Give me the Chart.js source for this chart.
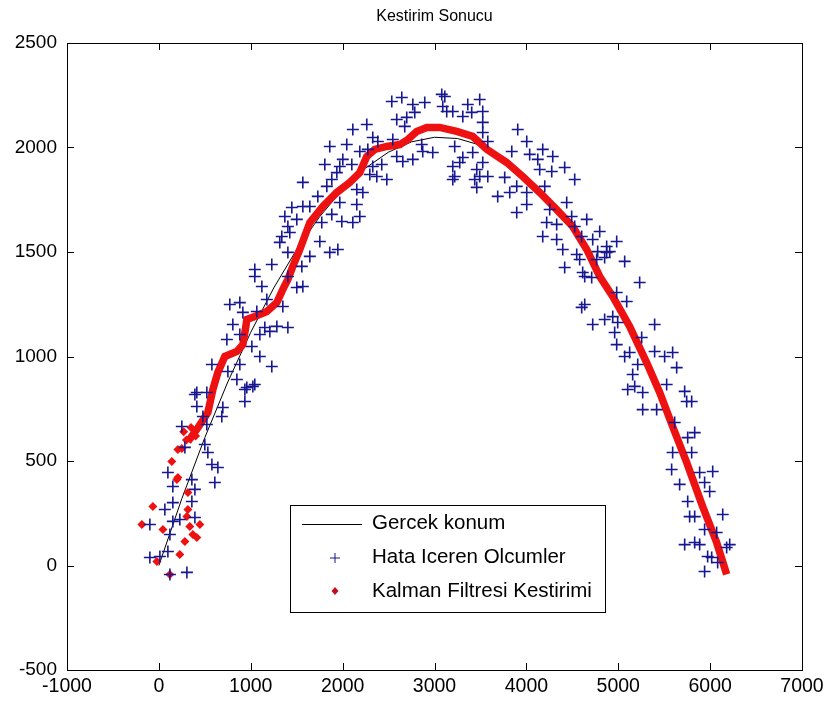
<!DOCTYPE html>
<html>
<head>
<meta charset="utf-8">
<script src="https://cdn.jsdelivr.net/npm/chart.js@4.4.1/dist/chart.umd.min.js"></script>
<style>
  html, body { margin: 0; padding: 0; background: #fff; }
  #wrap { width: 836px; height: 708px; }
</style>
</head>
<body>
<div id="wrap"><canvas id="kalmanChart" width="836" height="708"></canvas></div>
<script>
const chartTitle = 'Kestirim Sonucu';
const seriesNames = ['Gercek konum', 'Hata Iceren Olcumler', 'Kalman Filtresi Kestirimi'];
const xTicks = [-1000, 0, 1000, 2000, 3000, 4000, 5000, 6000, 7000];
const yTicks = [-500, 0, 500, 1000, 1500, 2000, 2500];

// true path
const trueX = [0, 250, 500, 750, 1000, 1250, 1500, 1750, 2000, 2250, 2500, 2750, 3000,
  3250, 3500, 3750, 4000, 4250, 4500, 4750, 5000, 5250, 5500, 5750, 6000, 6150];
const trueY = [0, 320, 612, 878, 1116, 1328, 1512, 1669, 1799, 1902, 1978, 2027, 2049,
  2043, 2011, 1951, 1864, 1751, 1610, 1442, 1247, 1024, 775, 499, 195, 0];

// noisy measurements
const measured = [
  [283,565],[500,579],[533,541],[577,483],[642,469],[609,397],[98,445],[152,378],[359,411],[392,364],
  [359,306],[152,301],[65,268],[-98,196],[152,211],[228,220],[392,230],[120,148],[98,67],[-98,38],
  [11,43],[305,-33],[120,-43],[250,665],[413,828],[522,828],[413,761],[696,756],[685,713],[936,785],
  [936,842],[1023,857],[1404,1498],[1643,1479],[1044,1416],[1044,1383],[1229,1440],[1556,1431],[1121,1335],[1501,1330],
  [1567,1335],[1175,1273],[772,1249],[881,1258],[1349,1239],[914,1211],[1066,1215],[805,1153],[881,1105],[740,1081],
  [1153,1139],[1284,1144],[1404,1139],[1208,1120],[1099,1105],[1012,1048],[1099,1000],[1229,952],[577,962],[881,962],
  [751,928],[849,890],[957,852],[1044,866],[392,818],[479,713],[522,675],
  [2535,2220],[2644,2239],[2764,2206],[2894,2215],[3079,2254],[3090,2196],[3133,2172],[2589,2134],[2698,2144],[2676,2101],
  [2785,2168],[2263,2110],[2111,2086],[2328,2048],[2383,2029],[2546,2038],[2274,1991],[2187,1981],[2045,2014],[1860,2005],
  [2002,1943],[1969,1909],[1806,1919],[1937,1880],[1882,1847],[1828,1814],[1567,1833],[2100,1919],[2328,1909],[2426,1919],
  [2372,1861],[2481,1847],[2296,1871],[2589,1957],[2655,1933],[2764,1943],[2872,1981],[2861,2014],[2981,1976],[3220,2005],
  [3199,1909],[3199,1847],[2154,1799],[2220,1785],[1969,1737],[2154,1727],[1730,1766],[1643,1718],[1567,1718],[1447,1713],
  [1371,1670],[1501,1656],[1882,1680],[1991,1646],[2111,1641],[2187,1670],[1773,1641],[1752,1550],[1860,1498],[1948,1512],
  [1404,1622],[1338,1574],[1425,1593],[1316,1546],[1404,1383],
  [3112,2244],[3199,2172],[3362,2206],[3405,2168],[3492,2230],[3525,2172],[3308,2148],[3525,2120],[3525,2072],[3580,2029],
  [3308,1952],[3416,1976],[3275,1928],[3525,1928],[3460,1895],[3220,1861],[3438,1847],[3492,1861],[3580,1861],[3460,1809],
  [3906,2086],[4004,2029],[3841,1981],[4036,1967],[4178,1991],[4124,1943],[4287,1957],[4145,1895],[4276,1885],[4417,1904],
  [4526,1847],[3764,1857],[3895,1814],[3688,1766],[3819,1785],[4004,1785],[4200,1814],[4004,1727],[3895,1689],[4439,1737],
  [4254,1703],[4221,1641],[4330,1632],[4493,1670],[4526,1622],[4657,1656],[4178,1574],[4330,1560],[4602,1574],[4798,1598],
  [4722,1560],[4983,1550],[4874,1526],[4874,1498],[4396,1512],[4548,1488],[4580,1464],[4765,1464],[5070,1455],[4417,1426],
  [4613,1402],
  [4776,1502],[4907,1502],[4852,1474],[4635,1383],[4711,1378],[5233,1354],[4983,1306],[5092,1263],[4635,1249],[4602,1235],
  [4722,1153],[4852,1177],[4940,1191],[4994,1163],[5396,1153],[4961,1115],[5255,1091],[4983,1057],[5396,1024],[5505,1000],
  [5592,1019],[5070,1000],[5124,1019],[5636,947],[5212,962],[5157,914],[5527,866],[5103,842],[5179,857],[5266,828],
  [5723,833],[5745,785],[5799,785],[5266,746],[5418,746],[5614,684],
  [5832,636],[5756,612],[5799,541],[5592,541],[5581,459],[5886,445],[6028,450],[5668,388],[5940,397],[5995,354],
  [5756,306],[5777,234],[5832,234],[6137,244],[5940,172],[6071,158],[5723,100],[5832,110],[5886,100],[6213,100],
  [6180,86],[5973,43],[6017,38],[6082,14],[5940,-29]
];

// kalman estimate: scattered start, then converged track
const kalmanStart = [
  [207,555],[141,498],[207,421],[316,349],[-65,282],[316,268],[-185,196],[44,172],[305,234],[337,187],
  [370,148],[413,134],[283,115],[228,53],[-22,19],[120,-43],[446,196],[196,411],[270,640],[350,660],
  [400,620],[300,600],[250,560]
];
const kalmanPath = [
  [316,593],[413,651],[533,732],[588,842],[642,924],[718,1000],[849,1024],[914,1057],[947,1144],[957,1177],
  [1044,1191],[1175,1215],[1284,1258],[1349,1321],[1404,1369],[1458,1431],[1534,1512],[1643,1641],[1784,1718],[1937,1785],
  [2078,1833],[2187,1880],[2263,1957],[2350,1991],[2481,2005],[2622,2014],[2709,2038],[2807,2077],[2916,2096],[3057,2096],
  [3242,2077],[3416,2053],[3569,1991],[3786,1928],[3960,1861],[4145,1785],[4330,1703],[4504,1622],[4657,1512],[4798,1383],
  [4940,1287],[5124,1144],[5309,971],[5451,828],[5592,665],[5745,493],[5919,282],[6071,110],[6180,-43]
];

const toXY = arr => arr.map(p => ({ x: p[0], y: p[1] }));
const FONT = "'Liberation Sans', Arial, sans-serif";
const BLUE = '#17178f';
const RED = '#ee1111';

// matlab style box, inward ticks, title and legend
const matlabAxes = {
  id: 'matlabAxes',
  afterDraw(chart) {
    const ctx = chart.ctx;
    const a = chart.chartArea;
    const sx = chart.scales.x, sy = chart.scales.y;
    const tl = 7;
    ctx.save();
    ctx.strokeStyle = '#000';
    ctx.lineWidth = 1;
    ctx.strokeRect(Math.round(a.left) + 0.5, Math.round(a.top) + 0.5,
      Math.round(a.right - a.left), Math.round(a.bottom - a.top));
    ctx.beginPath();
    xTicks.forEach(v => {
      const px = Math.round(sx.getPixelForValue(v)) + 0.5;
      ctx.moveTo(px, a.bottom); ctx.lineTo(px, a.bottom - tl);
      ctx.moveTo(px, a.top); ctx.lineTo(px, a.top + tl);
    });
    yTicks.forEach(v => {
      const py = Math.round(sy.getPixelForValue(v)) + 0.5;
      ctx.moveTo(a.left, py); ctx.lineTo(a.left + tl, py);
      ctx.moveTo(a.right, py); ctx.lineTo(a.right - tl, py);
    });
    ctx.stroke();

    // title
    ctx.fillStyle = '#000';
    ctx.font = '16px ' + FONT;
    ctx.textAlign = 'center';
    ctx.textBaseline = 'middle';
    ctx.fillText(chartTitle, (a.left + a.right) / 2, 17);

    // legend
    const bx = 290, by = 505, bw = 315, bh = 107;
    ctx.fillStyle = '#fff';
    ctx.fillRect(bx, by, bw, bh);
    ctx.strokeRect(bx + 0.5, by + 0.5, bw, bh);
    const rows = [523, 557, 591];
    ctx.font = '20.5px ' + FONT;
    ctx.textAlign = 'left';
    ctx.fillStyle = '#000';
    seriesNames.forEach((name, i) => ctx.fillText(name, 372, rows[i]));
    ctx.beginPath();
    ctx.moveTo(302, rows[0] + 1.5); ctx.lineTo(362, rows[0] + 1.5);
    ctx.stroke();
    ctx.strokeStyle = BLUE;
    ctx.beginPath();
    ctx.moveTo(330, rows[1] + 1); ctx.lineTo(340, rows[1] + 1);
    ctx.moveTo(335, rows[1] - 4); ctx.lineTo(335, rows[1] + 6);
    ctx.stroke();
    ctx.fillStyle = '#c01020';
    ctx.beginPath();
    ctx.moveTo(335, rows[2] - 4); ctx.lineTo(338.5, rows[2]);
    ctx.lineTo(335, rows[2] + 4); ctx.lineTo(331.5, rows[2]);
    ctx.closePath();
    ctx.fill();
    ctx.restore();
  }
};

const ctx = document.getElementById('kalmanChart').getContext('2d');
const kalmanChart = new Chart(ctx, {
  type: 'scatter',
  data: {
    datasets: [{
      label: seriesNames[0],
      data: trueX.map((x, i) => ({ x: x, y: trueY[i] })),
      showLine: true,
      borderColor: '#000',
      borderWidth: 1,
      pointRadius: 0,
      order: 4
    }, {
      label: seriesNames[1],
      data: toXY(measured),
      pointStyle: 'cross',
      pointRadius: 6,
      borderColor: BLUE,
      backgroundColor: BLUE,
      borderWidth: 1.6,
      order: 1
    }, {
      label: seriesNames[2],
      data: toXY(kalmanStart),
      pointStyle: 'rectRot',
      pointRadius: 4.5,
      borderWidth: 0,
      backgroundColor: RED,
      borderColor: RED,
      order: 2
    }, {
      label: 'track',
      data: toXY(kalmanPath),
      showLine: true,
      borderColor: RED,
      borderWidth: 7.5,
      pointRadius: 0,
      order: 3
    }]
  },
  options: {
    animation: false,
    responsive: false,
    events: [],
    layout: { padding: { top: 43, right: 34, left: 0, bottom: 0 } },
    plugins: {
      legend: { display: false },
      title: { display: false },
      tooltip: { enabled: false }
    },
    scales: {
      x: {
        type: 'linear',
        min: xTicks[0],
        max: xTicks[xTicks.length - 1],
        afterFit: s => { s.height = 38; },
        afterBuildTicks: s => { s.ticks = xTicks.map(v => ({ value: v })); },
        grid: { display: false, drawTicks: false },
        border: { display: false },
        ticks: {
          color: '#000',
          padding: 5,
          font: { family: FONT, size: 19.5 },
          maxRotation: 0,
          callback: v => String(v)
        }
      },
      y: {
        type: 'linear',
        min: yTicks[0],
        max: yTicks[yTicks.length - 1],
        afterFit: s => { s.width = 67; },
        afterBuildTicks: s => { s.ticks = yTicks.map(v => ({ value: v })); },
        grid: { display: false, drawTicks: false },
        border: { display: false },
        ticks: {
          color: '#000',
          padding: 10,
          font: { family: FONT, size: 19 },
          callback: v => String(v)
        }
      }
    }
  },
  plugins: [matlabAxes]
});
</script>
</body>
</html>
